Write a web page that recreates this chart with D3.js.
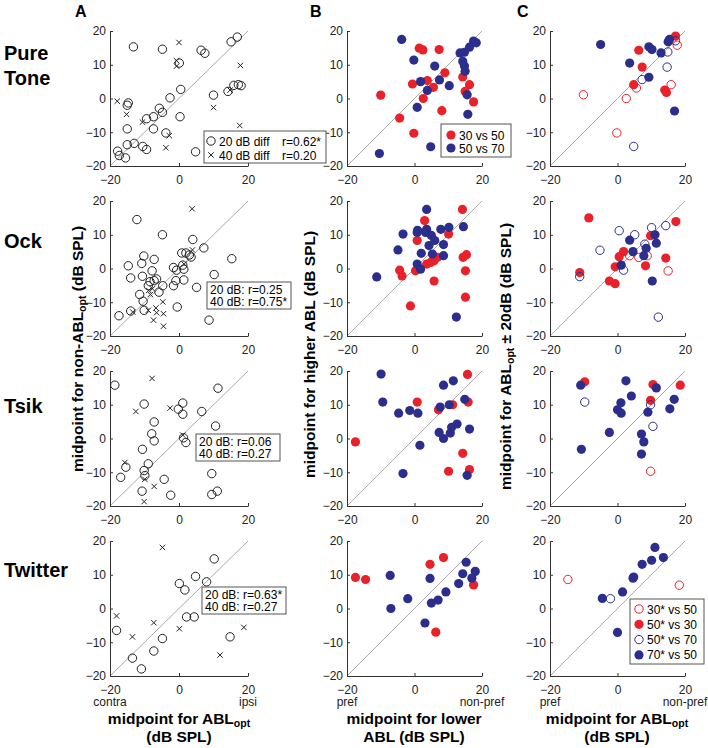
<!DOCTYPE html>
<html>
<head>
<meta charset="utf-8">
<script src="https://cdn.jsdelivr.net/npm/d3@7"></script>
<style>
  body { margin: 0; background: #fff; }
  text { font-family: "Liberation Sans", Arial, sans-serif; }
</style>
</head>
<body>
<div id="chart"></div>
<script>
// ---- data: [x, y] midpoints in dB SPL ----
const rowNames = [["Pure", "Tone"], ["Ock"], ["Tsik"], ["Twitter"]];
const colLetters = ["A", "B", "C"];
const xTicks = [-20, 0, 20];
const yTicks = [-20, -10, 0, 10, 20];

// column A: 20 dB diff (circles) / 40 dB diff (crosses)
const a1Circle = [[-13.2,15.3],[-4.8,14.6],[0.1,10.5],[0.5,2.7],[-2.6,0.2],[6.4,14.3],[7.5,13.4],[15.1,16.8],[16.9,18.2],[10.0,1.0],[14.2,2.1],[15.9,3.9],[17.2,4.1],[-14.7,-1.3],[-15.0,-2.0],[-5.7,-2.9],[-4.8,-4.1],[-7.4,-5.4],[-9.4,-6.0],[0.3,-5.4],[-15.0,-9.0],[-7.4,-9.0],[-3.8,-10.2],[-15.0,-13.7],[-13.0,-13.3],[-10.5,-14.2],[-9.4,-15.1],[-17.8,-15.6],[-17.3,-16.9],[-15.5,-17.6],[4.8,-15.8],[18.0,3.8]];
const a1Cross = [[0,16.6],[-0.7,11.2],[-0.7,9.6],[-17.9,-0.8],[-15.2,-4.7],[-10.6,-7.0],[-2.8,-11.0],[-3.8,-14.6],[10.0,-2.7],[14.8,2.5],[17.8,9.8],[17.6,-8.0]];
const a2Circle = [[-12.2,14.5],[-4.8,10.0],[4.0,8.6],[7.2,6.1],[15.3,2.9],[-10.2,3.7],[-10.8,1.5],[-14.7,0.8],[-14.0,-2.8],[-7.2,2.7],[-10.6,-2.3],[-7.8,-0.7],[-8.4,-3.9],[-7.2,-3.6],[-6.5,-3.1],[-8.9,-5.1],[-4.7,-5.1],[-5.8,-7.0],[-11.4,-7.7],[-10.4,-9.7],[-10.1,-12.4],[-17.4,-14.0],[-14.0,-12.6],[-1.6,0.3],[-0.7,-0.5],[0.8,4.6],[2.0,4.6],[3.0,4.0],[3.5,3.4],[1.1,1.0],[1.4,-0.2],[-0.9,-3.6],[1.4,-3.4],[-1.6,-5.1],[5.1,-5.6],[-0.5,-11.4],[10.2,-1.8],[8.7,-15.3]];
const a2Cross = [[3.8,17.7],[3.9,5.5],[1.5,1.3],[-8.8,-6.5],[-7.7,-6.0],[-8.3,-7.7],[-13.4,-12.9],[-4.7,-9.9],[-6.7,-11.7],[-8.9,-12.4],[-6.5,-13.1],[-4.5,-13.4],[-7.4,-15.3],[-4.5,-17.1]];
const a3Circle = [[-18.6,15.8],[11.3,14.9],[-10.1,10.2],[1.1,10.5],[-0.2,8.7],[1.1,7.2],[6.6,8.0],[-7.2,4.9],[-7.9,1.4],[-7.2,-0.7],[-10.6,-3.2],[10.6,3.7],[1.3,0.2],[2.0,-1.2],[-16.9,-11.5],[-15.4,-8.5],[-8.9,-7.5],[-10.1,-9.5],[-9.9,-11.0],[-10.7,-15.6],[-4.3,-12.1],[-2.4,-16.8],[9.5,-10.4],[9.5,-16.6],[11.1,-15.6]];
const a3Cross = [[-7.8,17.8],[-12.5,8.0],[-2.6,9.0],[1.1,1.0],[-15.7,-7.1],[-9.9,-12.1],[-7.2,-14.2],[-10.1,-18.7]];
const a4Circle = [[10.2,14.7],[4.8,9.5],[8.0,7.9],[0.1,7.4],[1.7,5.5],[2.2,-2.5],[4.4,-2.5],[-18.1,-6.5],[-4.8,-8.9],[-7.3,-12.6],[-13.5,-14.7],[-10.9,-17.9],[14.8,-8.4]];
const a4Cross = [[-4.8,18.1],[-18.1,-2.2],[-13.5,-8.4],[-7.3,-4.2],[0.1,-6.0],[11.9,-13.8],[18.8,-5.6]];

// column B: 30 vs 50 (red) / 50 vs 70 (blue)
const b1Red = [[-10,1.0],[-4.4,-5.8],[-0.2,-10.3],[-0.6,4.3],[1.4,14.9],[2.5,14.4],[7.3,14.5],[2.6,0.0],[5.6,3.3],[3.8,5.3],[9.0,7.6],[8.1,-3.6],[14.3,6.4],[15.0,2.1],[16.3,4.1],[17.5,-1.0]];
const b1Blue = [[-3.8,17.5],[-0.2,11.4],[6.0,9.6],[1.8,5.0],[3.8,2.4],[7.4,5.5],[10.3,3.8],[0.8,-2.6],[4.8,-14.3],[-10.4,-16.3],[13.5,13.5],[14.8,13.7],[16.3,15.2],[14.3,11.0],[14.8,9.6],[15.0,8.1],[15.6,1.1],[15.8,-4.7],[17.5,17.0],[18.3,16.5]];
const b2Red = [[3.0,14.2],[14.2,17.5],[0.8,8.3],[10.1,10.2],[-4.4,-0.5],[-3.7,-2.2],[0.3,-0.7],[3.6,1.3],[4.8,1.8],[5.8,2.3],[6.8,3.3],[5.8,-3.7],[-1.2,-11.1],[14.4,3.3],[15.4,4.1],[15.1,-0.7],[15.1,-8.5]];
const b2Blue = [[3.6,17.5],[0.9,11.3],[3.6,11.6],[7.8,11.6],[10.2,12.2],[14.5,12.4],[-3.4,10.2],[0.8,10.7],[3.3,10.7],[5.0,9.8],[6.0,8.3],[4.3,6.8],[8.6,7.1],[2.0,4.5],[5.3,4.3],[8.6,3.8],[-4.9,5.5],[0.8,1.3],[1.8,-0.2],[-11.2,-2.5],[12.4,-14.4]];
const b3Red = [[0.8,10.8],[15.7,19.0],[7.1,8.5],[11.3,10.0],[15.9,10.8],[-17.5,-1.0],[14.3,-4.4],[10.1,-9.7],[16.3,-9.2]];
const b3Blue = [[-9.9,19.1],[-9.4,10.8],[8.6,15.8],[11.5,17.1],[-4.7,7.5],[-1.4,8.3],[1.0,7.5],[7.6,9.3],[10.3,10.0],[14.9,11.6],[1.6,-2.0],[7.3,1.8],[8.6,0.0],[10.6,1.6],[12.6,4.3],[11.0,3.3],[16.3,2.8],[-3.4,-10.4],[15.6,-10.9]];
const b4Red = [[-17.5,9.2],[-14.5,8.6],[4.6,13.1],[8.6,15.1],[6.3,-7.0],[17.5,7.0]];
const b4Blue = [[-7.2,9.8],[-7.0,0.0],[-2.0,2.9],[4.6,8.9],[5.0,1.6],[7.0,2.5],[9.3,4.9],[3.1,-4.3],[13.1,7.4],[14.3,10.3],[15.3,13.7],[18.0,11.0],[17.0,9.0]];

// column C: ABLopt vs ABLopt +/- 20 dB
const c1RedOpen = [[-10.1,1.1],[2.6,0.0],[5.6,3.1],[15.9,4.1],[17.7,15.8],[-0.2,-10.2]];
const c1RedFill = [[6.3,14.3],[7.3,9.3],[4.8,4.1],[14.0,2.5],[14.5,1.8],[17.2,18.5]];
const c1BlueOpen = [[7.3,5.6],[14.9,13.8],[14.7,9.3],[17.2,17.1],[4.8,-14.2]];
const c1BlueFill = [[-5.0,16.0],[3.6,10.5],[9.3,15.3],[10.2,14.5],[12.9,13.5],[15.0,16.8],[15.4,17.5],[9.3,6.3],[16.9,-3.7]];
const c2RedOpen = [[3.6,3.8],[6.3,3.3],[8.8,3.8],[15.0,-0.7]];
const c2RedFill = [[-8.5,15.0],[17.3,13.9],[9.8,9.7],[1.8,5.0],[0.5,3.5],[-0.7,0.5],[8.3,0.8],[14.3,3.1],[-11.2,-1.2],[-2.4,-3.7],[-0.7,-4.5]];
const c2BlueOpen = [[0.5,11.2],[5.1,10.0],[10.1,12.1],[14.3,12.7],[-5.2,5.4],[8.1,7.2],[1.8,-0.5],[-11.2,-2.4],[12.1,-14.4]];
const c2BlueFill = [[3.6,8.4],[11.1,10.0],[11.5,7.5],[8.5,6.0],[4.6,5.0],[7.8,3.8],[1.1,1.0],[10.3,-3.7]];
const c3RedOpen = [[9.8,-9.7]];
const c3RedFill = [[-9.7,16.8],[10.5,16.0],[9.8,11.3],[18.6,15.8]];
const c3BlueOpen = [[-9.7,10.8],[9.8,10.0],[10.5,3.6]];
const c3BlueFill = [[-10.9,15.8],[2.5,17.1],[4.1,12.6],[1.0,10.6],[0.0,8.5],[1.1,7.5],[11.5,15.0],[16.8,11.6],[15.5,8.8],[9.0,7.8],[-2.4,1.8],[7.1,1.3],[7.8,-1.0],[-10.7,-3.2],[7.1,-4.6]];
const c4RedOpen = [[-14.7,8.6],[18.3,6.9]];
const c4RedFill = [];
const c4BlueOpen = [[-2.1,2.9]];
const c4BlueFill = [[-4.5,3.0],[1.5,4.9],[4.6,9.0],[4.8,9.3],[7.3,13.1],[10.1,14.3],[11.1,18.1],[13.6,15.1],[0.0,-7.1]];

const aStats = [["r=0.62*", "r=0.20"], ["20 dB: r=0.25", "40 dB: r=0.75*"], ["20 dB: r=0.06", "40 dB: r=0.27"], ["20 dB: r=0.63*", "40 dB: r=0.27"]];
const bLegend = ["30 vs 50", "50 vs 70"];
const cLegend = ["30* vs 50", "50* vs 30", "50* vs 70", "70* vs 50"];

// ---- layout ----
const RED = "#e8212a", BLUE = "#2b2e8c";
const colLeft = [110, 347, 550], colW = [138, 135, 135];
const rowTop = [31, 201, 371, 541], rowH = 135;

const svg = d3.select("#chart").append("svg")
  .attr("width", 708).attr("height", 748);

const panels = [
  [[a1Circle, "circle"], [a1Cross, "cross"]],
  [[b1Red, "redFill"], [b1Blue, "blueFill"]],
  [[c1RedOpen, "redOpen"], [c1RedFill, "redFill"], [c1BlueOpen, "blueOpen"], [c1BlueFill, "blueFill"]],
  [[a2Circle, "circle"], [a2Cross, "cross"]],
  [[b2Red, "redFill"], [b2Blue, "blueFill"]],
  [[c2RedOpen, "redOpen"], [c2RedFill, "redFill"], [c2BlueOpen, "blueOpen"], [c2BlueFill, "blueFill"]],
  [[a3Circle, "circle"], [a3Cross, "cross"]],
  [[b3Red, "redFill"], [b3Blue, "blueFill"]],
  [[c3RedOpen, "redOpen"], [c3RedFill, "redFill"], [c3BlueOpen, "blueOpen"], [c3BlueFill, "blueFill"]],
  [[a4Circle, "circle"], [a4Cross, "cross"]],
  [[b4Red, "redFill"], [b4Blue, "blueFill"]],
  [[c4RedOpen, "redOpen"], [c4RedFill, "redFill"], [c4BlueOpen, "blueOpen"], [c4BlueFill, "blueFill"]]
];

function drawMarker(g, pts, kind, x, y) {
  if (kind == "cross") {
    const s = 2.7;
    g.selectAll(null).data(pts).enter().append("path")
      .attr("d", d => `M${x(d[0])-s},${y(d[1])-s}L${x(d[0])+s},${y(d[1])+s}M${x(d[0])-s},${y(d[1])+s}L${x(d[0])+s},${y(d[1])-s}`)
      .attr("stroke", "#222").attr("stroke-width", 1).attr("fill", "none");
    return;
  }
  const open = kind == "circle" || kind.endsWith("Open");
  const col = kind == "circle" ? "#222" : (kind.startsWith("red") ? RED : BLUE);
  g.selectAll(null).data(pts).enter().append("circle")
    .attr("cx", d => x(d[0])).attr("cy", d => y(d[1]))
    .attr("r", open ? 4.2 : 4.6)
    .attr("fill", open ? "none" : col)
    .attr("stroke", col).attr("stroke-width", open ? 1 : 0);
}

panels.forEach((series, i) => {
  const r = Math.floor(i / 3), c = i % 3;
  const x = d3.scaleLinear().domain([-20, 20]).range([0, colW[c]]);
  const y = d3.scaleLinear().domain([-20, 20]).range([rowH, 0]);
  const g = svg.append("g").attr("transform", `translate(${colLeft[c]},${rowTop[r]})`);

  // identity line
  g.append("line")
    .attr("x1", x(-20)).attr("y1", y(-20)).attr("x2", x(20)).attr("y2", y(20))
    .attr("stroke", "#aaa").attr("stroke-width", 1);

  const xa = g.append("g").attr("transform", `translate(0,${rowH})`)
    .call(d3.axisBottom(x).tickValues(xTicks).tickSizeInner(-3).tickSizeOuter(0).tickPadding(9));
  const ya = g.append("g")
    .call(d3.axisLeft(y).tickValues(yTicks).tickSizeInner(-3).tickSizeOuter(0).tickPadding(4));
  [xa, ya].forEach(a => {
    a.selectAll("text").attr("font-size", 12).attr("fill", "#222")
      .style("font-family", "'Liberation Sans', Arial, sans-serif");
    a.selectAll("path, line").attr("stroke", "#333");
  });

  series.forEach(s => drawMarker(g, s[0], s[1], x, y));

  // bottom row endpoint words
  if (r == 3) {
    const ends = c == 0 ? ["contra", "ipsi"] : ["pref", "non-pref"];
    g.append("text").attr("x", x(-20)).attr("y", rowH + 30).attr("text-anchor", "middle")
      .attr("font-size", 12).attr("fill", "#222").text(ends[0]);
    g.append("text").attr("x", x(20)).attr("y", rowH + 30).attr("text-anchor", "middle")
      .attr("font-size", 12).attr("fill", "#222").text(ends[1]);
  }
});

// row names
rowNames.forEach((lines, r) => {
  const base = [85, 248, 413, 577][r];
  lines.forEach((t, k) => {
    svg.append("text").attr("x", 4).attr("y", base - (lines.length - 1 - k) * 25)
      .attr("font-size", 20).attr("font-weight", "bold").text(t);
  });
});

// column letters
[[75, 17], [310, 17], [517, 17]].forEach((p, c) => {
  svg.append("text").attr("x", p[0]).attr("y", p[1])
    .attr("font-size", 16).attr("font-weight", "bold").text(colLetters[c]);
});

// axis titles with ABL_opt subscripts
function richText(sel, parts) {
  parts.forEach(p => {
    const t = sel.append("tspan").text(p[0]);
    if (p[1]) t.attr("font-size", 10.5).attr("baseline-shift", "-3");
  });
}
const yTitles = [
  [83, 472, [["midpoint for non-ABL"], ["opt", 1], [" (dB SPL)"]]],
  [315, 478, [["midpoint for higher ABL (dB SPL)"]]],
  [511, 490, [["midpoint for ABL"], ["opt", 1], [" \u00b1 20dB (dB SPL)"]]]
];
yTitles.forEach(t => {
  const el = svg.append("text").attr("transform", `translate(${t[0]},${t[1]}) rotate(-90)`)
    .attr("font-size", 15.5).attr("font-weight", "bold");
  richText(el, t[2]);
});
const xTitles = [
  [179, [[["midpoint for ABL"], ["opt", 1]], [["(dB SPL)"]]]],
  [414, [[["midpoint for lower"]], [["ABL (dB SPL)"]]]],
  [617, [[["midpoint for ABL"], ["opt", 1]], [["(dB SPL)"]]]]
];
xTitles.forEach(t => {
  t[1].forEach((line, k) => {
    const el = svg.append("text").attr("x", t[0]).attr("y", 724 + k * 18)
      .attr("text-anchor", "middle").attr("font-size", 15.5).attr("font-weight", "bold");
    richText(el, line);
  });
});

// legends
function box(x0, y0, w, h) {
  svg.append("rect").attr("x", x0).attr("y", y0).attr("width", w).attr("height", h)
    .attr("fill", "#fff").attr("stroke", "#555").attr("stroke-width", 1);
}
const lx = d3.scaleLinear(), ly = d3.scaleLinear();
// A1 legend
box(204, 131, 122, 32);
drawMarker(svg, [[211, 141]], "circle", lx, ly);
drawMarker(svg, [[211, 155]], "cross", lx, ly);
[["20 dB diff", 141], ["40 dB diff", 155]].forEach((t, k) => {
  svg.append("text").attr("x", 219).attr("y", t[1] + 4.5).attr("font-size", 12).text(t[0]);
  svg.append("text").attr("x", 282).attr("y", t[1] + 4.5).attr("font-size", 12).text(aStats[0][k]);
});
// A2-A4 legends
[[207, 282], [196, 434], [202, 587]].forEach((p, i) => {
  box(p[0], p[1], 84, 27);
  aStats[i + 1].forEach((s, k) => {
    svg.append("text").attr("x", p[0] + 3).attr("y", p[1] + 12 + k * 12).attr("font-size", 12).text(s);
  });
});
// B1 legend
box(441, 124, 70, 33);
drawMarker(svg, [[451, 135]], "redFill", lx, ly);
drawMarker(svg, [[451, 148]], "blueFill", lx, ly);
bLegend.forEach((s, k) => {
  svg.append("text").attr("x", 459).attr("y", 139.5 + k * 13).attr("font-size", 12).text(s);
});
// C4 legend
box(630, 599, 74, 65);
["redOpen", "redFill", "blueOpen", "blueFill"].forEach((kind, k) => {
  drawMarker(svg, [[639, 609 + k * 15.3]], kind, lx, ly);
  svg.append("text").attr("x", 647).attr("y", 613.5 + k * 15.3).attr("font-size", 12).text(cLegend[k]);
});
</script>
</body>
</html>
